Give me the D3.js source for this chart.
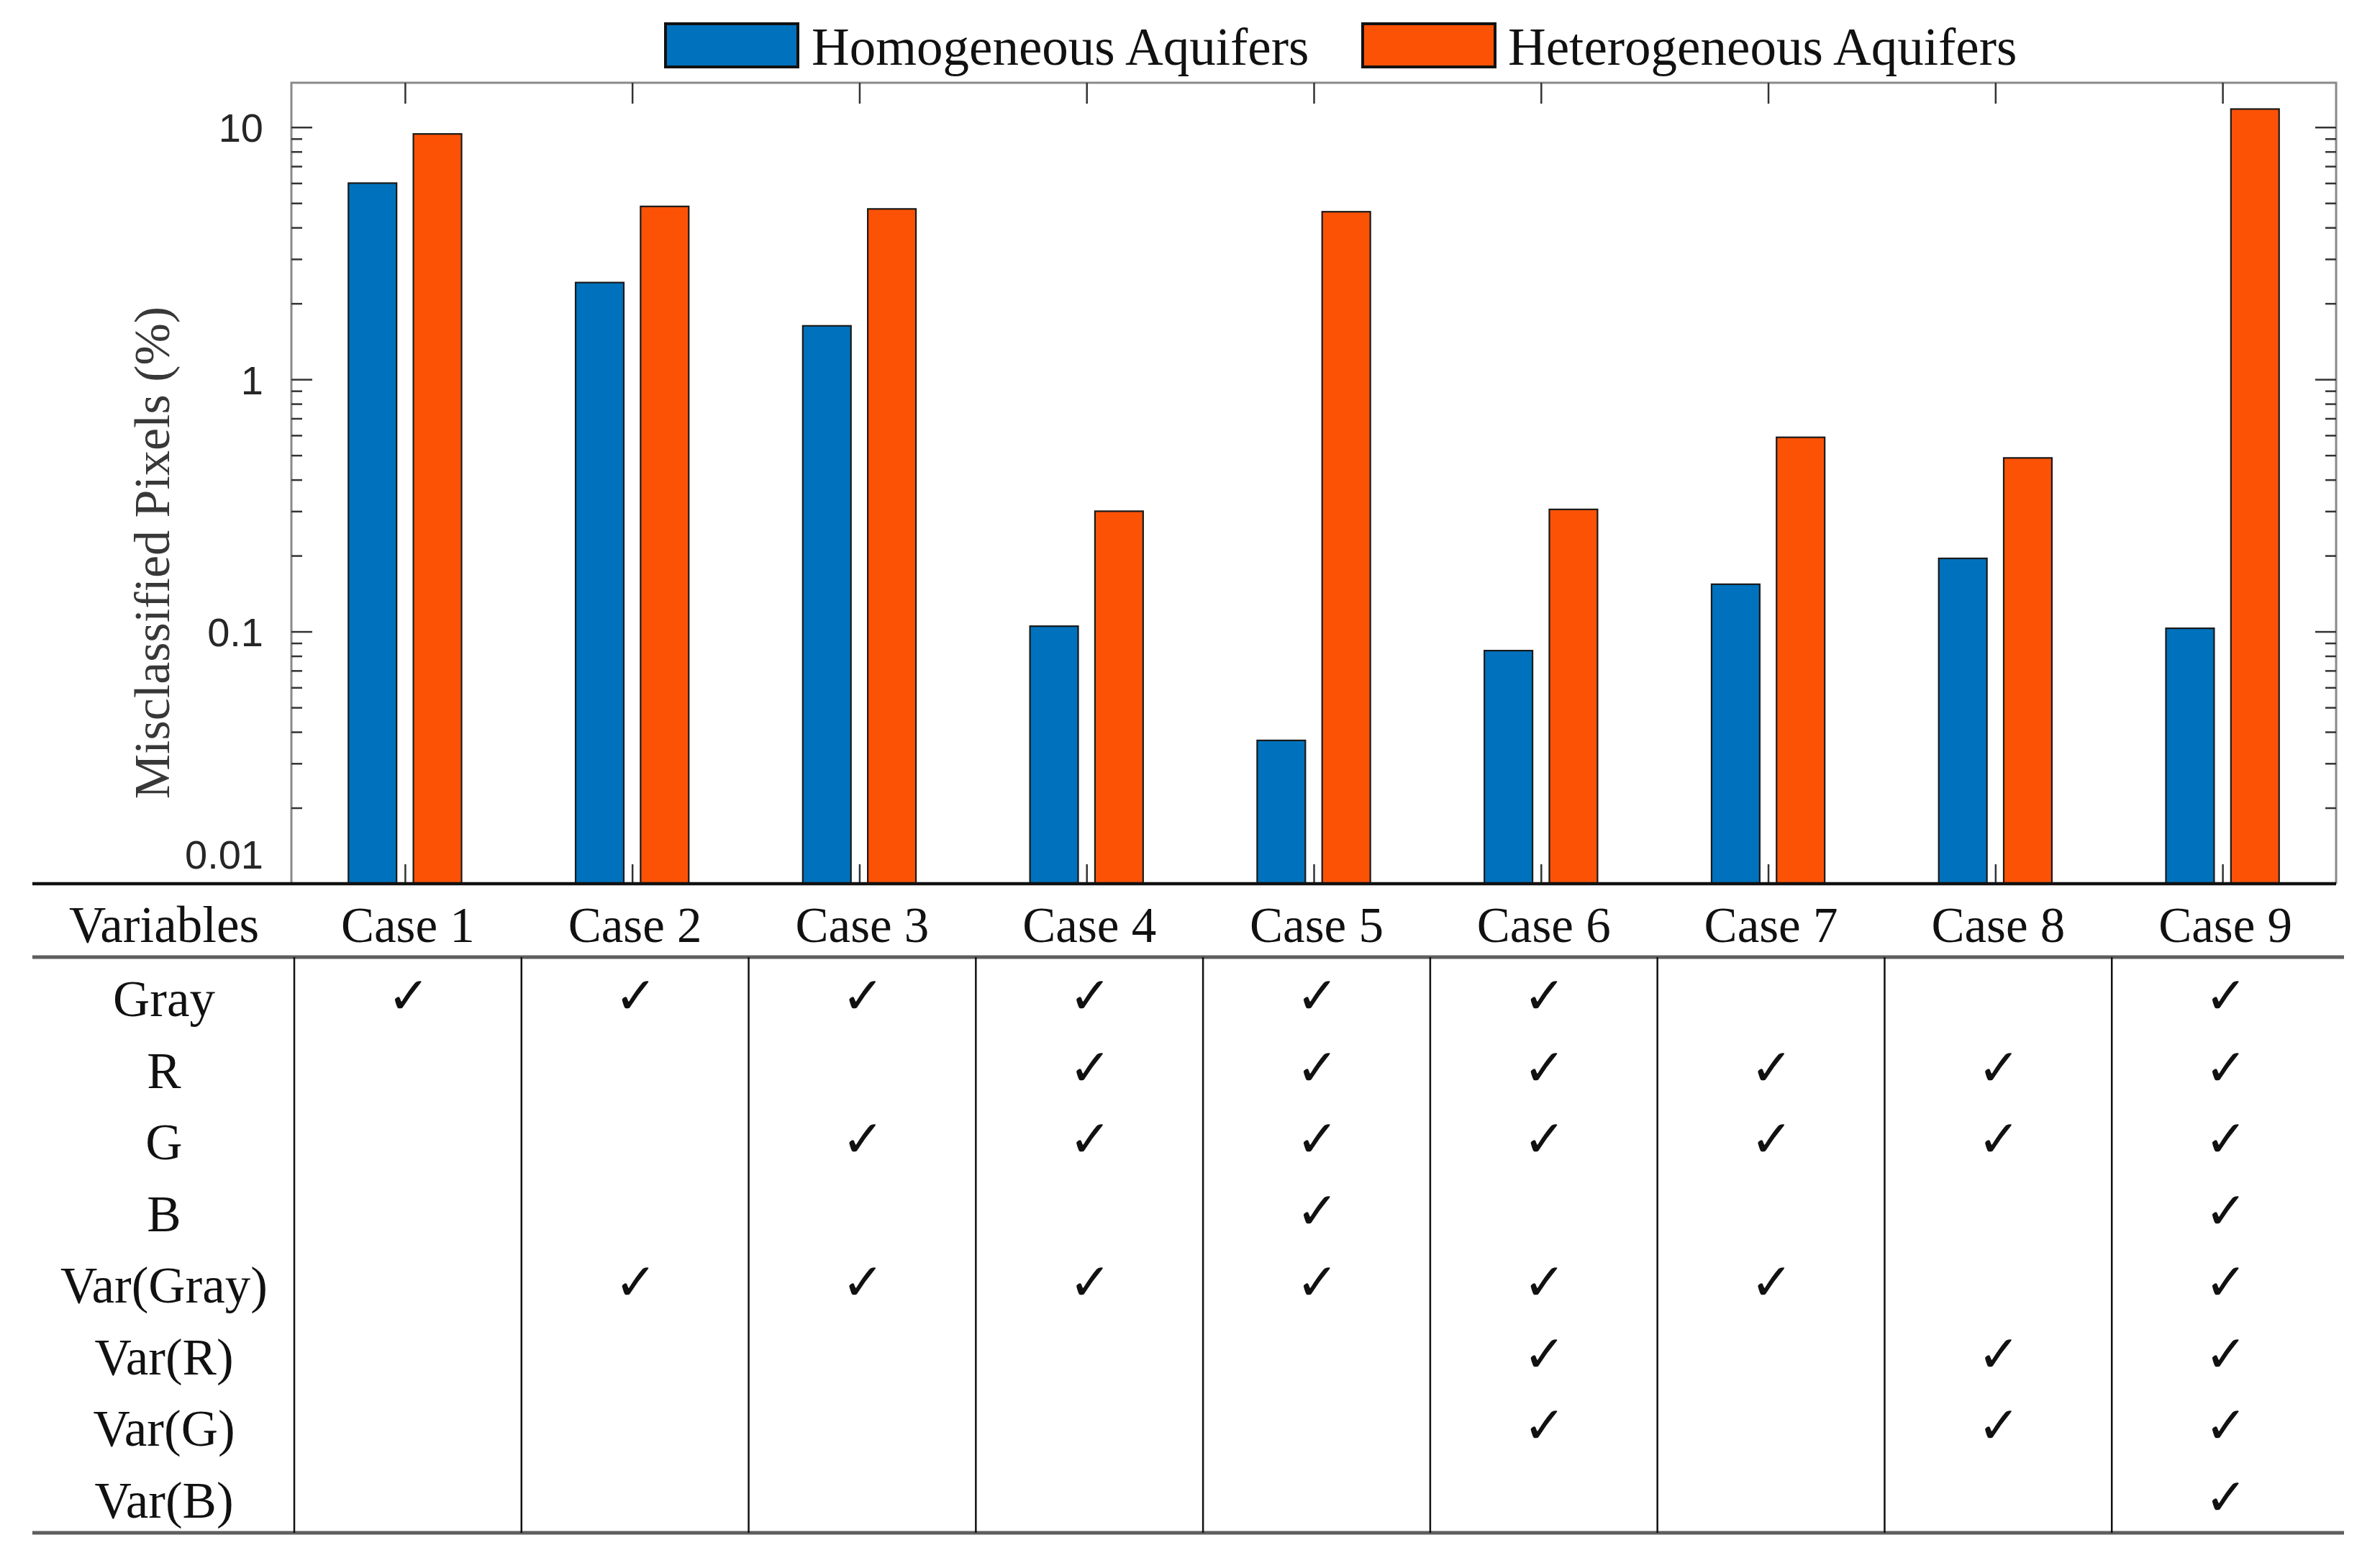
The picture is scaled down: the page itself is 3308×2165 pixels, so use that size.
<!DOCTYPE html>
<html>
<head>
<meta charset="utf-8">
<script src="https://cdn.jsdelivr.net/npm/d3@7"></script>
<style>
html,body{margin:0;padding:0;background:#fff;}
svg{display:block;}
</style>
</head>
<body>
<svg id="chart" width="3308" height="2165" viewBox="0 0 3308 2165"></svg>
<script>
// ---------------- data ----------------
const cases = ["Case 1","Case 2","Case 3","Case 4","Case 5","Case 6","Case 7","Case 8","Case 9"];
const seriesNames = ["Homogeneous Aquifers","Heterogeneous Aquifers"];
const homogeneous = [6.0, 2.42, 1.63, 0.105, 0.037, 0.084, 0.154, 0.195, 0.103];
const heterogeneous = [9.4, 4.85, 4.74, 0.30, 4.62, 0.305, 0.589, 0.488, 11.8];
const yMajorTicks = [0.01, 0.1, 1, 10];
const yTickLabels = ["0.01", "0.1", "1", "10"];
const yLabel = "Misclassified Pixels (%)";
const tableHeader = "Variables";
const variables = ["Gray","R","G","B","Var(Gray)","Var(R)","Var(G)","Var(B)"];
// case numbers in which each variable is used
const checkGray    = [1,2,3,4,5,6,9];
const checkR       = [4,5,6,7,8,9];
const checkG       = [3,4,5,6,7,8,9];
const checkB       = [5,9];
const checkVarGray = [2,3,4,5,6,7,9];
const checkVarR    = [6,8,9];
const checkVarG    = [6,8,9];
const checkVarB    = [9];
const checkLists = [checkGray, checkR, checkG, checkB, checkVarGray, checkVarR, checkVarG, checkVarB];

// ---------------- layout ----------------
const colors = ["#0072BD", "#FC5206"];
const serif = "'Liberation Serif', 'Times New Roman', serif";
const sans = "'Liberation Sans', Arial, sans-serif";
const plot = {left: 405, right: 3247, top: 115, bottom: 1228};
const table = {left: 45, right: 3258, headerBase: 1309, headerRule: 1330,
               firstRowBase: 1412, rowStep: 99.5, bottomRule: 2130, labelX: 228};

const svg = d3.select("#chart");
svg.append("rect").attr("width",3308).attr("height",2165).attr("fill","#fff");

const x = d3.scaleBand().domain(cases).range([plot.left, plot.right]).padding(0);
const step = x.bandwidth();
const cx = c => x(c) + step / 2;
const y = d3.scaleLog().domain([0.01, 15]).range([plot.bottom, plot.top]);

const barW = step * 0.212;
const barOff = step * 0.143;

// minor ticks
const minorTicks = [];
[0.01, 0.1, 1].forEach(d => { for (let k = 2; k <= 9; k++) minorTicks.push(+(d*k).toPrecision(3)); });

// ---------- axes box (gray) ----------
const box = d3.path();
box.moveTo(plot.left, plot.bottom); box.lineTo(plot.left, plot.top);
box.lineTo(plot.right, plot.top); box.lineTo(plot.right, plot.bottom);
svg.append("path").attr("d", box.toString()).attr("fill","none")
  .attr("stroke","#8a8a8a").attr("stroke-width",3);

// ---------- bars ----------
const barData = [];
cases.forEach((c, i) => {
  barData.push({c, v: homogeneous[i], s: 0});
  barData.push({c, v: heterogeneous[i], s: 1});
});
svg.append("g").selectAll("rect").data(barData).join("rect")
  .attr("x", d => cx(d.c) + (d.s === 0 ? -barOff : barOff) - barW/2)
  .attr("y", d => y(d.v))
  .attr("width", barW)
  .attr("height", d => plot.bottom - y(d.v))
  .attr("fill", d => colors[d.s])
  .attr("stroke", "#1a1a1a").attr("stroke-width", 2.2);

// ---------- y axes (ticks inward) ----------
function styleAxis(g){
  g.select(".domain").remove();
  g.selectAll(".tick line").attr("stroke","#333").attr("stroke-width",2.5);
}
const yLeft = svg.append("g").attr("transform",`translate(${plot.left},0)`)
  .call(d3.axisLeft(y).tickValues(yMajorTicks).tickSize(-29).tickPadding(39)
        .tickFormat((d,i) => yTickLabels[i]));
styleAxis(yLeft);
yLeft.selectAll(".tick text").attr("font-family", sans).attr("font-size", 56)
  .attr("fill","#262626")
  .attr("dy", d => d === 0.01 ? "-0.38em" : "0.36em");
const yLeftMinor = svg.append("g").attr("transform",`translate(${plot.left},0)`)
  .call(d3.axisLeft(y).tickValues(minorTicks).tickSize(-15).tickFormat(""));
styleAxis(yLeftMinor);
const yRight = svg.append("g").attr("transform",`translate(${plot.right},0)`)
  .call(d3.axisRight(y).tickValues(yMajorTicks).tickSize(-29).tickFormat(""));
styleAxis(yRight);
const yRightMinor = svg.append("g").attr("transform",`translate(${plot.right},0)`)
  .call(d3.axisRight(y).tickValues(minorTicks).tickSize(-15).tickFormat(""));
styleAxis(yRightMinor);

// ---------- x ticks top & bottom ----------
const xp = d3.scalePoint().domain(cases).range([cx(cases[0]), cx(cases[cases.length-1])]);
const xTop = svg.append("g").attr("transform",`translate(0,${plot.top})`)
  .call(d3.axisTop(xp).tickSize(-29).tickFormat(""));
styleAxis(xTop);
const xBot = svg.append("g").attr("transform",`translate(0,${plot.bottom})`)
  .call(d3.axisBottom(xp).tickSize(-27).tickFormat(""));
styleAxis(xBot);

// bottom black rule (axis baseline)
svg.append("line").attr("x1", table.left).attr("x2", plot.right)
  .attr("y1", plot.bottom).attr("y2", plot.bottom)
  .attr("stroke","#111").attr("stroke-width",4.5);

// ---------- y label ----------
svg.append("text")
  .attr("transform", `translate(235,768) rotate(-90)`)
  .attr("text-anchor","middle").attr("font-family", serif).attr("font-size", 70)
  .attr("fill","#383838").text(yLabel);

// ---------- legend ----------
const legendItems = [
  {name: seriesNames[0], color: colors[0], bx: 925, tx: 1128},
  {name: seriesNames[1], color: colors[1], bx: 1894, tx: 2096}
];
const lg = svg.append("g");
lg.selectAll("rect").data(legendItems).join("rect")
  .attr("x", d => d.bx).attr("y", 33).attr("width", 184).attr("height", 60)
  .attr("fill", d => d.color).attr("stroke","#111").attr("stroke-width",4);
lg.selectAll("text").data(legendItems).join("text")
  .attr("x", d => d.tx).attr("y", 90)
  .attr("font-family", serif).attr("font-size", 73).attr("fill","#111")
  .text(d => d.name);

// ---------- table ----------
const tg = svg.append("g");
tg.append("text").attr("x", table.labelX).attr("y", table.headerBase)
  .attr("text-anchor","middle").attr("font-family", serif).attr("font-size", 71)
  .attr("fill","#111").text(tableHeader);
tg.selectAll("text.case").data(cases).join("text").attr("class","case")
  .attr("x", d => cx(d) + 4).attr("y", table.headerBase)
  .attr("text-anchor","middle").attr("font-family", serif).attr("font-size", 69)
  .attr("fill","#111").text(d => d);
// rules
[table.headerRule, table.bottomRule].forEach(yy => {
  tg.append("line").attr("x1", table.left).attr("x2", table.right)
    .attr("y1", yy).attr("y2", yy).attr("stroke","#5e5e5e").attr("stroke-width",5);
});
// vertical separators at case band edges
tg.selectAll("line.sep").data(cases).join("line").attr("class","sep")
  .attr("x1", d => x(d) + 4).attr("x2", d => x(d) + 4)
  .attr("y1", table.headerRule).attr("y2", table.bottomRule)
  .attr("stroke","#111").attr("stroke-width",2.5);
// row labels
const rowBase = i => table.firstRowBase + i * table.rowStep;
tg.selectAll("text.var").data(variables).join("text").attr("class","var")
  .attr("x", table.labelX).attr("y", (d,i) => rowBase(i))
  .attr("text-anchor","middle").attr("font-family", serif).attr("font-size", 71)
  .attr("fill","#111").text(d => d);
// check marks
const checkData = [];
checkLists.forEach((list, r) => list.forEach(n => checkData.push({r, c: cases[n-1]})));
tg.selectAll("text.chk").data(checkData).join("text").attr("class","chk")
  .attr("x", d => cx(d.c) + 5).attr("y", d => rowBase(d.r) - 4)
  .attr("text-anchor","middle").attr("font-family","'DejaVu Sans', sans-serif")
  .attr("font-size", 71).attr("fill","#111").text("\u2713");
</script>
</body>
</html>
